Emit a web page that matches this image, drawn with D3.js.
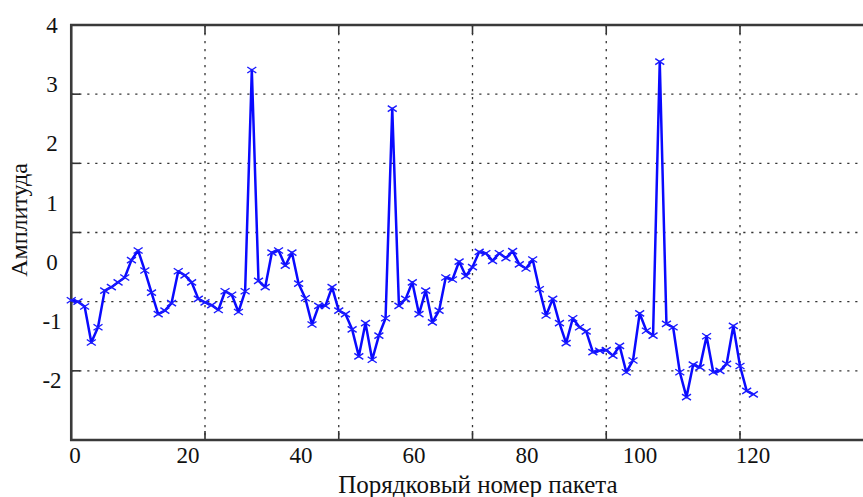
<!DOCTYPE html>
<html>
<head>
<meta charset="utf-8">
<script src="https://cdn.jsdelivr.net/npm/d3@7"></script>
<style>
  html, body { margin: 0; padding: 0; background: #fff; }
  svg { display: block; }
  text { font-family: "Liberation Serif", "Times New Roman", serif; fill: #111; }
</style>
</head>
<body>
<svg id="chart" width="863" height="497"></svg>
<script>
// ---- data ----
const xTickValues = [0, 20, 40, 60, 80, 100, 120];
const yTickValues = [4, 3, 2, 1, 0, -1, -2];
const xGridValues = [20, 40, 60, 80, 100, 120];
const yGridValues = [-1, 0, 1, 2, 3];
const xTitle = "Порядковый номер пакета";
const yTitle = "Амплитуда";
const amplitude = [
  0.02, 0.00, -0.07, -0.59, -0.37, 0.16, 0.21, 0.28, 0.35, 0.60,
  0.74, 0.45, 0.13, -0.18, -0.13, -0.02, 0.44, 0.38, 0.28, 0.04,
  -0.01, -0.05, -0.12, 0.15, 0.10, -0.15, 0.15, 3.35, 0.30, 0.21,
  0.71, 0.74, 0.52, 0.71, 0.26, 0.05, -0.33, -0.06, -0.06, 0.21,
  -0.13, -0.18, -0.40, -0.79, -0.31, -0.84, -0.49, -0.24, 2.79, -0.06,
  0.04, 0.28, -0.18, 0.16, -0.30, -0.13, 0.35, 0.32, 0.58, 0.37,
  0.50, 0.72, 0.70, 0.59, 0.70, 0.63, 0.73, 0.54, 0.48, 0.61,
  0.18, -0.20, 0.04, -0.31, -0.60, -0.24, -0.37, -0.43, -0.73, -0.71,
  -0.70, -0.78, -0.64, -1.02, -0.85, -0.17, -0.42, -0.49, 3.47, -0.32,
  -0.37, -1.02, -1.38, -0.91, -0.95, -0.50, -1.02, -1.00, -0.90, -0.35,
  -0.93, -1.29, -1.34
];

// ---- layout ----
const pL = 71.25, pR = 873.75, pT = 25, pB = 440;
const svg = d3.select("#chart");

const x = d3.scaleLinear().domain([0, 120]).range([pL, pR]);
const y = d3.scaleLinear().domain([-2, 4]).range([pB, pT]);
// tick labels in the reference are placed on a compressed layout
const xLab = d3.scaleLinear().domain([0, 120]).range([75, 753]);
const yLab = d3.scaleLinear().domain([-2, 4]).range([380, 25]);

// grid
const grid = svg.append("g").attr("stroke", "#333").attr("stroke-width", 1.3)
  .attr("stroke-dasharray", "2.2,5.8").attr("fill", "none");
grid.selectAll("line.v").data(xGridValues).join("line").attr("class", "v")
  .attr("x1", d => x(d)).attr("x2", d => x(d)).attr("y1", pT).attr("y2", pB);
grid.selectAll("line.h").data(yGridValues).join("line").attr("class", "h")
  .attr("x1", pL).attr("x2", pR).attr("y1", d => y(d)).attr("y2", d => y(d));

// ticks (inward)
const tk = svg.append("g").attr("stroke", "#333").attr("stroke-width", 1.6);
const tl = 9;
tk.selectAll("line.tb").data(xGridValues).join("line").attr("class", "tb")
  .attr("x1", d => x(d)).attr("x2", d => x(d)).attr("y1", pB).attr("y2", pB - tl);
tk.selectAll("line.tt").data(xGridValues).join("line").attr("class", "tt")
  .attr("x1", d => x(d)).attr("x2", d => x(d)).attr("y1", pT).attr("y2", pT + tl);
tk.selectAll("line.tl").data(yGridValues).join("line").attr("class", "tl")
  .attr("x1", pL).attr("x2", pL + tl).attr("y1", d => y(d)).attr("y2", d => y(d));

// frame
svg.append("path")
  .attr("d", `M${pR},${pT}H${pL}V${pB}H${pR}`)
  .attr("fill", "none").attr("stroke", "#3a3a3a").attr("stroke-width", 2.6);

// series
const line = d3.line().x((d, i) => x(i)).y(d => y(d));
svg.append("path").datum(amplitude).attr("d", line)
  .attr("fill", "none").attr("stroke", "#0a0aff").attr("stroke-width", 2.5)
  .attr("stroke-linejoin", "round");

svg.append("g").attr("stroke", "#1a1aff").attr("stroke-width", 1.4).attr("fill", "none")
  .selectAll("path").data(amplitude).join("path")
  .attr("transform", (d, i) => `translate(${x(i)},${y(d)})`)
  .attr("d", "M-4.5,-3L4.5,3M-4.5,3L4.5,-3");

// tick labels
svg.append("g").selectAll("text").data(xTickValues).join("text")
  .attr("x", d => xLab(d)).attr("y", 463).attr("text-anchor", "middle")
  .attr("font-size", 23).text(d => d);
svg.append("g").selectAll("text").data(yTickValues).join("text")
  .attr("x", 52).attr("y", d => yLab(d)).attr("dy", "0.35em").attr("text-anchor", "middle")
  .attr("font-size", 23).text(d => d < 0 ? "-" + Math.abs(d) : d);

// titles
svg.append("text").attr("x", 478).attr("y", 493).attr("text-anchor", "middle")
  .attr("font-size", 25).text(xTitle);
svg.append("text").attr("transform", "translate(27,220) rotate(-90)")
  .attr("text-anchor", "middle").attr("font-size", 24).text(yTitle);
</script>
</body>
</html>
